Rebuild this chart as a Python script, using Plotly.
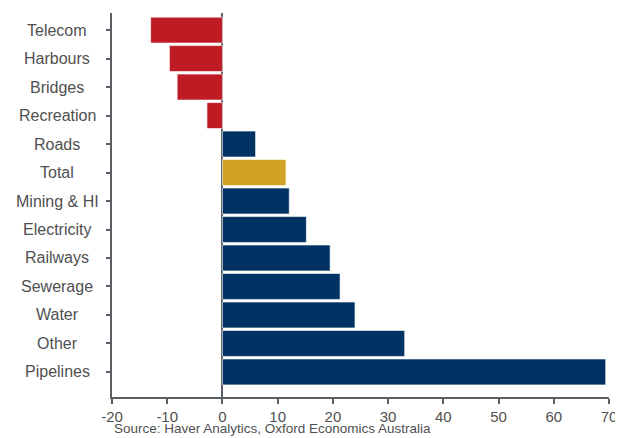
import plotly.graph_objects as go

categories = ["Telecom", "Harbours", "Bridges", "Recreation", "Roads", "Total",
              "Mining & HI", "Electricity", "Railways", "Sewerage", "Water", "Other", "Pipelines"]
values = [-13.0, -9.6, -8.2, -2.8, 6.0, 11.5, 12.1, 15.2, 19.5, 21.3, 24.0, 33.0, 69.4]
x_ticks = [-20, -10, 0, 10, 20, 30, 40, 50, 60, 70]
x_tick_labels = ["-20", "-10", "0", "10", "20", "30", "40", "50", "60", "70"]
source_text = "Source: Haver Analytics, Oxford Economics Australia"

RED = "#BE1B24"
NAVY = "#003263"
GOLD = "#D1A322"
colors = []
for c, v in zip(categories, values):
    if c == "Total":
        colors.append(GOLD)
    elif v < 0:
        colors.append(RED)
    else:
        colors.append(NAVY)

FONT = "Liberation Sans, Arial"
TXT = "#505050"
AX = "#5B5F66"

# page body has an 8px margin: figure origin sits at (8, 8) in the window
OFF = 8
W, H = 623 - OFF, 438 - OFF
ML, MR, MT, MB = 112 - OFF, 14, 13 - OFF, 41
PW = W - ML - MR
PH = H - MT - MB

fig = go.Figure(go.Bar(
    x=values, y=categories, orientation="h",
    marker=dict(color=colors, line=dict(color="rgba(255,255,255,0.6)", width=1)),
    width=0.91,
))

annotations = []
for c in categories:
    annotations.append(dict(
        text=c, xref="paper", yref="y", x=(57 - 112) / PW, y=c,
        xanchor="center", yanchor="middle", showarrow=False,
        font=dict(family=FONT, size=16, color=TXT),
    ))
annotations.append(dict(
    text=source_text, xref="paper", yref="paper", x=0,
    y=-MB / PH,
    xanchor="left", yanchor="bottom", showarrow=False,
    font=dict(family=FONT, size=13.5, color=TXT),
))

fig.update_layout(
    width=W, height=H,
    margin=dict(l=ML, r=MR, t=MT, b=MB, autoexpand=False),
    paper_bgcolor="white", plot_bgcolor="white",
    showlegend=False,
    font=dict(family=FONT, size=16, color=TXT),
    xaxis=dict(
        range=[-20, 70], tickvals=x_ticks, ticktext=x_tick_labels, showgrid=False,
        zeroline=True, zerolinecolor=AX, zerolinewidth=2,
        showline=True, linecolor=AX, linewidth=2,
        ticks="outside", ticklen=5, tickcolor=AX, tickwidth=1.5,
        tickfont=dict(family=FONT, size=15, color=TXT),
        automargin=False,
    ),
    yaxis=dict(
        type="category", categoryorder="array", categoryarray=categories,
        range=[12.88, -0.6], showgrid=False,
        showline=True, linecolor=AX, linewidth=2,
        ticks="outside", ticklen=4, tickcolor=AX, tickwidth=1.5,
        showticklabels=False, automargin=False,
    ),
    annotations=annotations,
)

fig.write_html(
    "out.html",
    post_script="document.documentElement.style.overflow='hidden';"
                "document.body.style.overflow='hidden';",
)
